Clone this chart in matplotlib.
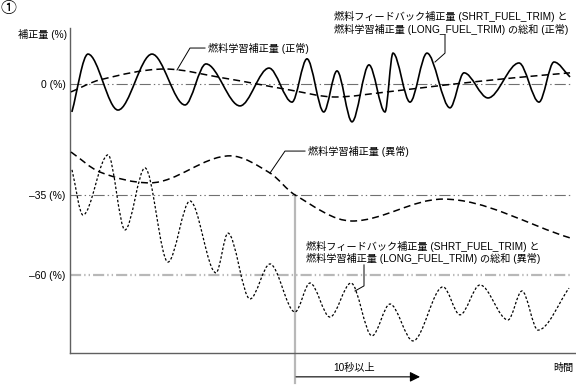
import numpy as np
import matplotlib
matplotlib.use("Agg")
import matplotlib.pyplot as plt
from matplotlib.path import Path
from matplotlib.patches import PathPatch

plt.rcParams['font.family'] = ['Liberation Sans', 'Noto Sans CJK JP']
plt.rcParams['lines.scale_dashes'] = False

# time (arbitrary, ~seconds) / correction (%) at peaks and troughs
sum_normal_t = [0.15, 1.44, 3.84, 6.56, 9.2, 10.88, 13.6, 15.92, 17.76, 18.96, 20.3,
                21.36, 22.56, 23.92, 25.2, 25.84, 27.2, 28.56, 30.4, 31.52, 33.44,
                35.92, 37.52, 38.72, 40.0]
sum_normal_v = [-8.8, 9.4, -8.2, 9.4, -6.6, 6.3, -6.9, 5.0, -5.7, 7.9, -8.8,
                4.1, -11.9, 6.0, -8.8, 9.7, -5.7, 9.7, -7.5, 3.5, -4.4,
                6.6, -5.7, 6.9, 2.2]

long_normal_t = [0.08, 2.4, 7.6, 12.24, 14.96, 17.6, 21.2, 25.36, 30.08, 35.44, 40.0]
long_normal_v = [-2.5, 1.3, 4.7, 1.9, 0.0, -1.9, -4.1, -2.5, -0.3, 1.9, 3.5]

long_abn_t = [0.08, 2.4, 6.4, 12.8, 16.0, 18.0, 22.56, 29.84, 40.0]
long_abn_v = [-21.4, -27.7, -31.1, -22.6, -28.0, -34.9, -43.1, -36.2, -48.4]

sum_abn_t = [0.16, 1.04, 3.04, 4.4, 6.0, 7.84, 9.6, 11.68, 12.64, 14.4, 16.0, 18.0,
             19.2, 20.8, 22.48, 24.16, 25.6, 27.44, 29.84, 31.2, 32.8, 35.04,
             36.16, 37.44, 39.92]
sum_abn_v = [-27.0, -41.2, -22.3, -45.9, -26.4, -56.0, -36.8, -59.4, -46.9, -67.6,
             -56.6, -71.7, -62.6, -73.3, -62.6, -79.2, -69.2, -80.8, -63.8, -72.6,
             -63.2, -74.2, -65.1, -77.4, -64.2]

ref_levels = [0, -35, -60]
ref_labels = ['0 (%)', '\u201335 (%)', '\u201360 (%)']
t_fault = 18.0      # start of "10秒以上"
t_fault_end = 28.0


def smooth_path(ts, vs):
    # cubic bezier through the read points, flat at peaks/troughs
    n = len(ts)
    m = []
    for i in range(n):
        if i == 0:
            m.append((vs[1] - vs[0]) / (ts[1] - ts[0]))
        elif i == n - 1:
            m.append((vs[-1] - vs[-2]) / (ts[-1] - ts[-2]))
        elif (vs[i] - vs[i - 1]) * (vs[i + 1] - vs[i]) <= 0:
            m.append(0.0)
        else:
            m.append((vs[i + 1] - vs[i - 1]) / (ts[i + 1] - ts[i - 1]))
    verts = [(ts[0], vs[0])]
    codes = [Path.MOVETO]
    for i in range(n - 1):
        h = (ts[i + 1] - ts[i]) / 3
        verts += [(ts[i] + h, vs[i] + m[i] * h),
                  (ts[i + 1] - h, vs[i + 1] - m[i + 1] * h),
                  (ts[i + 1], vs[i + 1])]
        codes += [Path.CURVE4] * 3
    return Path(verts, codes)


fig = plt.figure(figsize=(5.76, 3.87), dpi=100)
ax = fig.add_axes([70 / 576, 34 / 387, 506 / 576, 325 / 387])
ax.set_xlim(0, 40.48)
ax.set_ylim(-84.6, 17.6)

for s in ['top', 'right']:
    ax.spines[s].set_visible(False)
for s in ['left', 'bottom']:
    ax.spines[s].set_color('#606060')
    ax.spines[s].set_linewidth(1.0)
ax.set_xticks([])
ax.set_yticks(ref_levels, ref_labels)
ax.tick_params(length=0, pad=3, labelsize=7.5)

dd = (0, (8, 2.2, 1.0, 2.2, 1.0, 2.2))
ax.plot([0, 40], [ref_levels[0]] * 2, color='#707070', lw=0.8, ls=dd)
ax.plot([0, 40], [ref_levels[1]] * 2, color='#707070', lw=0.8, ls=dd)
ax.plot([0, 40], [ref_levels[2]] * 2, color='#b8b8b8', lw=1.6, ls=dd)
ax.plot([t_fault, t_fault], [ref_levels[1], -94], color='#b8b8b8', lw=1.6, clip_on=False)

ax.add_patch(PathPatch(smooth_path(sum_normal_t, sum_normal_v), fill=False,
                       ec='black', lw=1.2, zorder=3))
ax.add_patch(PathPatch(smooth_path(long_normal_t, long_normal_v), fill=False,
                       ec='black', lw=1.1, ls=(0, (5, 3)), zorder=3))
ax.add_patch(PathPatch(smooth_path(long_abn_t, long_abn_v), fill=False,
                       ec='black', lw=1.1, ls=(0, (5, 3)), zorder=3))
ax.add_patch(PathPatch(smooth_path(sum_abn_t, sum_abn_v), fill=False,
                       ec='black', lw=0.9, ls=(0, (1.8, 1.4)), zorder=3))

fs = 7.3
# leaders + labels
ax.plot([8.56, 9.6, 10.8], [4.4, 11.3, 11.3], color='black', lw=0.7, clip_on=False)
ax.text(11.0, 11.3, '燃料学習補正量 (正常)', fontsize=fs, va='center', ha='left')

ax.plot([30.0, 30.0, 29.2], [15.4, 9.7, 6.9], color='black', lw=0.7, clip_on=False)
ax.text(21.1, 19.2, '燃料フィードバック補正量 (SHRT_FUEL_TRIM) と\n燃料学習補正量 (LONG_FUEL_TRIM) の総和 (正常)',
        fontsize=fs, va='center', ha='left')

ax.plot([16.0, 17.2, 18.8], [-28.0, -21.1, -21.1], color='black', lw=0.7, clip_on=False)
ax.text(19.0, -21.1, '燃料学習補正量 (異常)', fontsize=fs, va='center', ha='left')

ax.plot([23.52, 23.52, 22.8], [-56.9, -63.5, -65.1], color='black', lw=0.7, clip_on=False)
ax.text(18.88, -53.0, '燃料フィードバック補正量 (SHRT_FUEL_TRIM) と\n燃料学習補正量 (LONG_FUEL_TRIM) の総和 (異常)',
        fontsize=fs, va='center', ha='left')

ax.annotate('', xy=(t_fault_end, -92.1), xytext=(t_fault + 0.08, -92.1),
            arrowprops=dict(arrowstyle='-|>,head_length=0.6,head_width=0.3',
                            color='black', lw=0.8, shrinkA=0, shrinkB=0),
            annotation_clip=False)
ax.text(22.7, -89.3, '10秒以上', fontsize=fs, ha='center', va='center', clip_on=False)
ax.text(40.3, -89.3, '時間', fontsize=fs, ha='right', va='center', clip_on=False)
ax.text(-0.24, 15.4, '補正量 (%)', fontsize=fs, ha='right', va='center', clip_on=False)

fig.text(0.5 / 576, 1 - 8 / 387, '①', fontsize=11.5, ha='left', va='center')

fig.savefig('out.png', dpi=100)
